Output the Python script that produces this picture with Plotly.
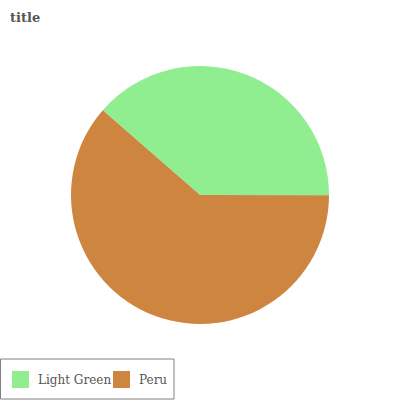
import plotly.graph_objects as go

labels = ["Light Green", "Peru"]
values = [38.6, 61.4]
colors = ["#90EE90", "#CD853F"]

FONT = "DejaVu Serif"

fig = go.Figure(go.Pie(
    labels=labels, values=values,
    marker=dict(colors=colors),
    textinfo="none", hoverinfo="label+value",
    sort=False, direction="clockwise", rotation=-48.9,
    domain=dict(x=[71/400, 329/400], y=[1-324/400, 1-66/400]),
    showlegend=False,
))

# custom legend (boxed, large square swatches)
fig.add_shape(type="rect", xref="paper", yref="paper",
              x0=0.5/400, x1=174/400, y0=1-399/400, y1=1-359/400,
              line=dict(color="#808080", width=1), fillcolor="rgba(0,0,0,0)")
sw_x = [12, 113]
tx_x = [35.5, 137]
for i, lab in enumerate(labels):
    fig.add_shape(type="rect", xref="paper", yref="paper",
                  x0=sw_x[i]/400, x1=(sw_x[i]+17)/400, y0=1-388/400, y1=1-371/400,
                  line=dict(width=0), fillcolor=colors[i])
    fig.add_annotation(text=lab, xref="paper", yref="paper", x=tx_x[i]/400, y=1-379.5/400,
                       xanchor="left", yanchor="middle", showarrow=False,
                       font=dict(family=FONT, size=12, color="#555555"))

fig.update_layout(
    width=400, height=400,
    margin=dict(l=0, r=0, t=0, b=0),
    paper_bgcolor="white",
    font=dict(family=FONT, color="#555555", size=12),
    title=dict(text="<b>title</b>", x=10/400, xanchor="left", y=1-17/400, yanchor="middle",
               font=dict(family=FONT, size=13, color="#555555")),
    showlegend=False,
)
fig.write_html("out.html", config={"displayModeBar": False},
               post_script="document.body.style.margin='0';")
